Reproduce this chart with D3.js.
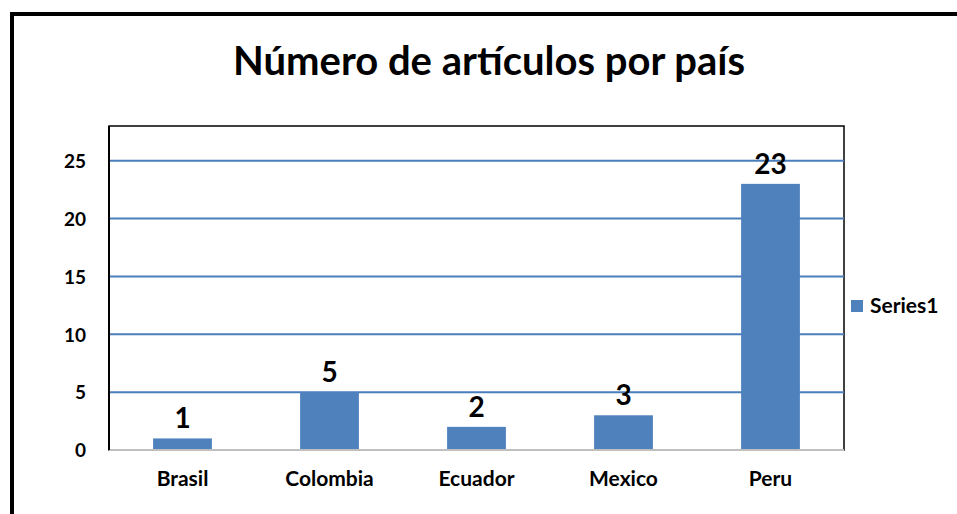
<!DOCTYPE html>
<html><head><meta charset="utf-8">
<script src="https://cdn.jsdelivr.net/npm/d3@7"></script>
<style>body{margin:0;background:#fff}svg{display:block}text{font-family:Lato,"Open Sans",sans-serif;font-weight:bold;fill:#000}</style>
</head><body>
<script>
const categories = ["Brasil","Colombia","Ecuador","Mexico","Peru"];
const values = [1,5,2,3,23];
const yTicks = [0,5,10,15,20,25];
const seriesName = "Series1";
const title = "Número de artículos por país";

const W = 957, H = 514;
const m = {left:109, right:844, top:126, bottom:450};
const svg = d3.select("body").append("svg").attr("width",W).attr("height",H);

svg.append("rect").attr("x",12).attr("y",14).attr("width",W).attr("height",H)
  .attr("fill","#fff").attr("stroke","#000").attr("stroke-width",4);

svg.append("text").attr("x",489).attr("y",75).attr("text-anchor","middle")
  .style("font-size","40px").text(title);

const x = d3.scaleBand().domain(categories).range([m.left,m.right]).paddingInner(0.6).paddingOuter(0.3);
const y = d3.scaleLinear().domain([0,28]).range([m.bottom,m.top]);

svg.append("rect").attr("x",m.left).attr("y",m.top).attr("width",m.right-m.left).attr("height",m.bottom-m.top)
  .attr("fill","none").attr("stroke","#000").attr("stroke-width",1.5);

svg.append("g").selectAll("line").data(yTicks.filter(d=>d>0)).join("line")
  .attr("x1",m.left).attr("x2",m.right).attr("y1",d=>y(d)).attr("y2",d=>y(d))
  .attr("stroke","#4A7EBB").attr("stroke-width",2);

svg.append("g").selectAll("rect").data(values).join("rect")
  .attr("x",(d,i)=>x(categories[i])).attr("width",x.bandwidth())
  .attr("y",d=>y(d)).attr("height",d=>y(0)-y(d)).attr("fill","#4F81BD");

svg.append("line").attr("x1",m.left).attr("x2",m.right).attr("y1",m.bottom).attr("y2",m.bottom)
  .attr("stroke","#BFBFBF").attr("stroke-width",2);
svg.append("line").attr("x1",m.left).attr("x2",m.left).attr("y1",m.top).attr("y2",m.bottom)
  .attr("stroke","#000").attr("stroke-width",2);

const ya = d3.axisLeft(y).tickValues(yTicks).tickSize(0).tickPadding(23);
const gy = svg.append("g").attr("transform",`translate(${m.left},0)`).call(ya);
gy.select(".domain").remove();
gy.selectAll("text").style("font-size","19px").style("font-family","Lato,sans-serif").style("font-weight","bold").attr("dy","0.36em");

const xa = d3.axisBottom(x).tickSize(0).tickPadding(21);
const gx = svg.append("g").attr("transform",`translate(0,${m.bottom})`).call(xa);
gx.select(".domain").remove();
gx.selectAll("text").style("font-size","21px").style("font-family","Lato,sans-serif").style("font-weight","bold");

svg.append("g").selectAll("text").data(values).join("text")
  .attr("x",(d,i)=>x(categories[i])+x.bandwidth()/2).attr("y",d=>y(d)-10)
  .attr("text-anchor","middle").style("font-size","28px").text(d=>d);

svg.append("rect").attr("x",851).attr("y",300).attr("width",12).attr("height",12).attr("fill","#4F81BD");
svg.append("text").attr("x",870).attr("y",313).style("font-size","21px").text(seriesName);
</script>
</body></html>
